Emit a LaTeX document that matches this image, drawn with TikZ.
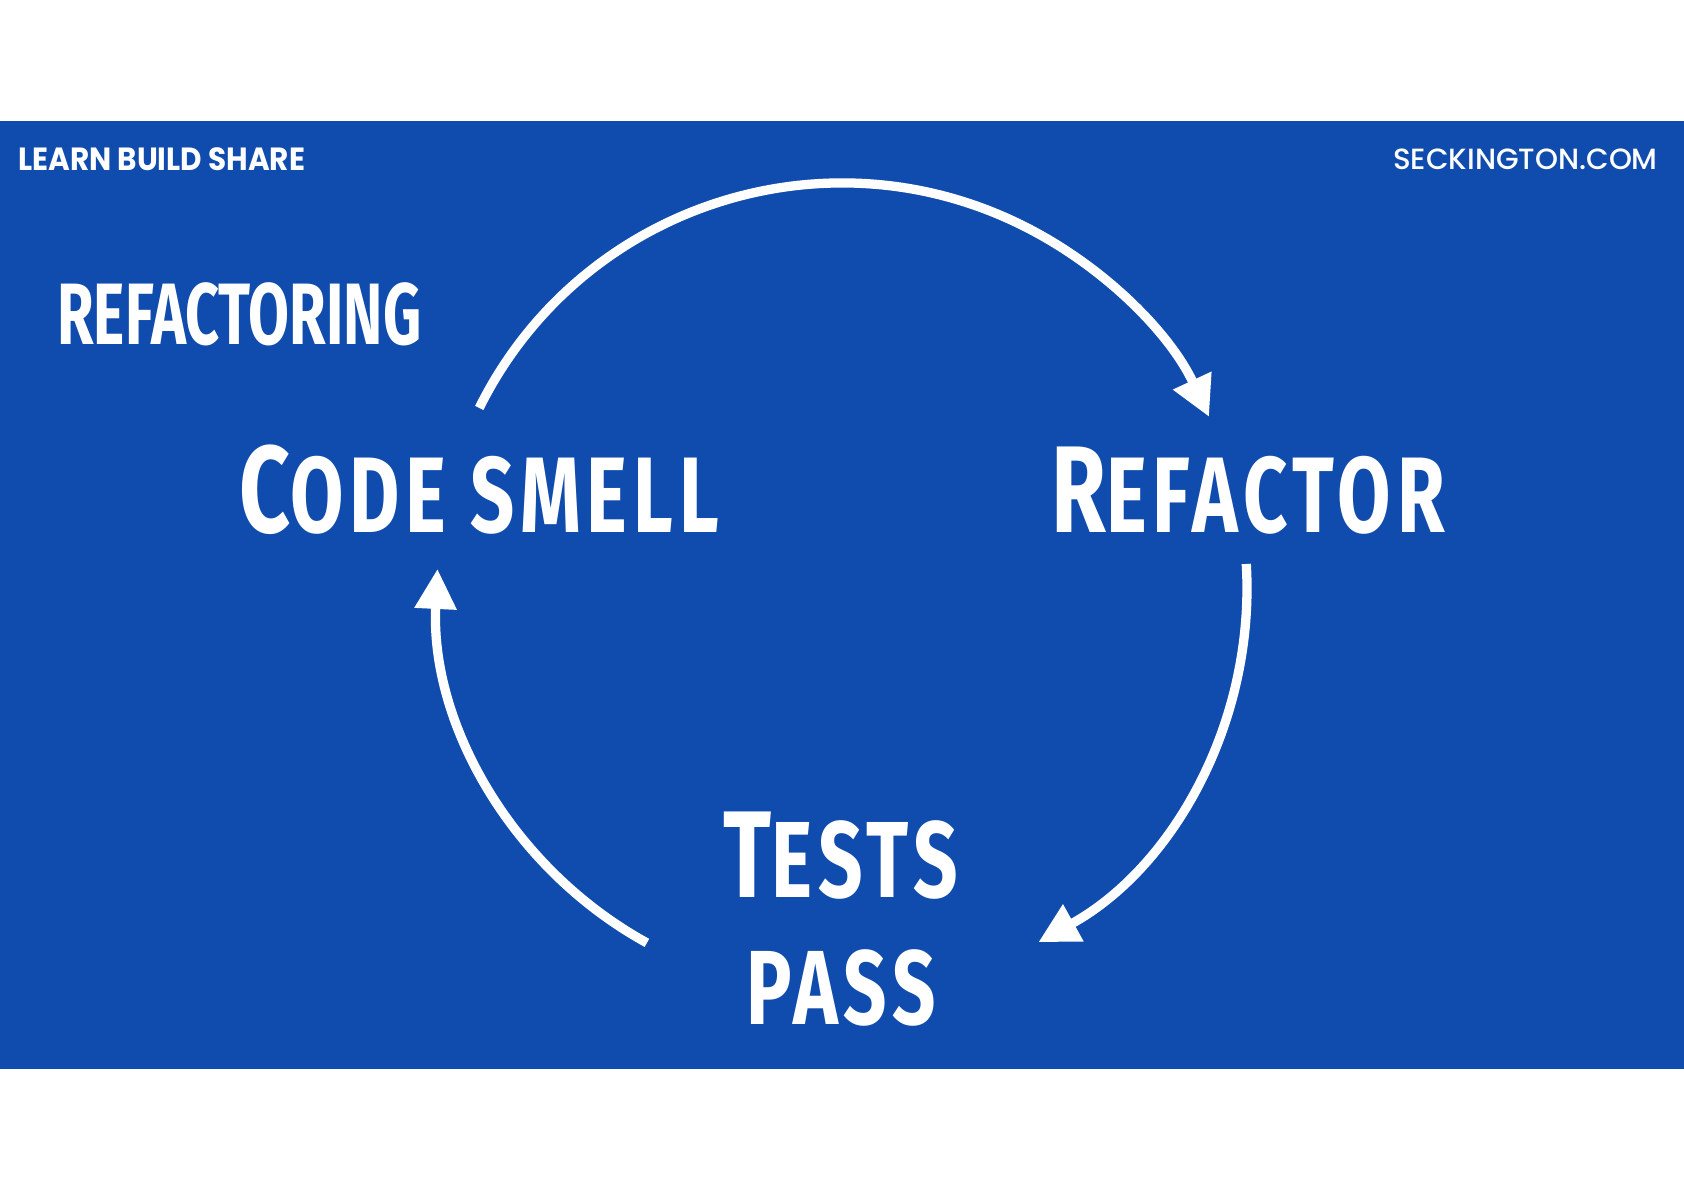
\documentclass[tikz,border=0pt]{standalone}
\usepackage{fontspec}
\usetikzlibrary{arrows.meta,calc}
\newfontfamily\tagfont{Poppins}[FakeStretch=0.92]
\newfontfamily\sitefont{Poppins Medium}
\newfontfamily\titlefont{Fira Sans}[FakeStretch=0.68]
\newfontfamily\headfont{Fira Sans}[FakeStretch=0.72,LetterSpace=5.5]
\definecolor{lbsblue}{RGB}{16,76,173}

\begin{document}
\begin{tikzpicture}[x=0.025cm, y=0.025cm,
  loopline/.style={white, line width=6.6pt, -{Triangle[length=1cm,width=1cm]}},
  word/.style={white, inner sep=0pt}]
% page and band
\fill[white] (0,0) rectangle (1684,1190);
\fill[lbsblue] (0,121) rectangle (1684,1069);
% header
\node[word, anchor=base west, font=\tagfont\bfseries\fontsize{22.8}{28}\selectfont] (learn) at (18,1019) {LEARN BUILD SHARE};
\node[word, anchor=base east, font=\sitefont\fontsize{20.8}{27}\selectfont] (site) at (1658,1020) {SECKINGTON.COM};
\node[word, anchor=base west, font=\titlefont\bfseries\fontsize{62}{70}\selectfont] (title) at (57,845) {REFACTORING};
% the three steps
\node[word, anchor=base, font=\headfont\bfseries\fontsize{76.4}{80}\selectfont] (smell) at (479,657) {{\fontsize{87.8}{90}\selectfont C}ODE SMELL};
\node[word, anchor=base, font=\headfont\bfseries\fontsize{76.4}{80}\selectfont] (refactor) at (1248,657) {{\fontsize{87.8}{90}\selectfont R}EFACTOR};
\node[word, anchor=base, font=\headfont\bfseries\fontsize{77}{80}\selectfont] (tests) at (841,292) {{\fontsize{87.8}{90}\selectfont T}ESTS};
\node[word, anchor=base, font=\headfont\bfseries\fontsize{75}{80}\selectfont] (pass) at (841,165) {PASS};
% the loop
\coordinate (c) at (842,602);
\coordinate (a1) at ($(c)+(153.6:405)$);
\coordinate (a2) at ($(c)+(3.4:405)$);
\coordinate (a3) at ($(c)+(241.2:405)$);
\draw[loopline] (a1) arc[start angle=153.6, end angle=25, radius=405];
\draw[loopline] (a2) arc[start angle=3.4, end angle=-61, radius=405];
\draw[loopline] (a3) arc[start angle=241.2, end angle=177.3, radius=405];
\end{tikzpicture}
\end{document}
